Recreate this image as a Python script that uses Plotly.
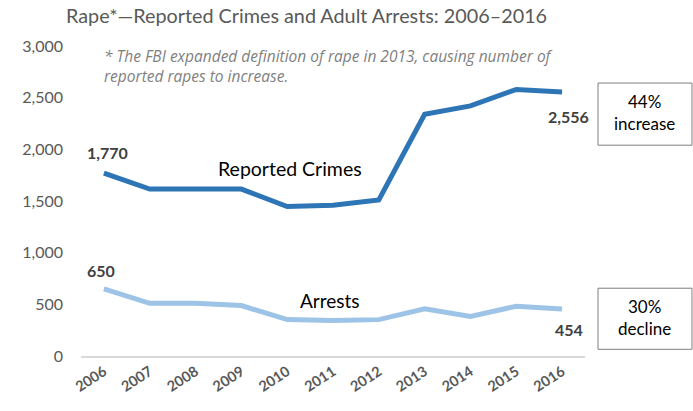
import plotly.graph_objects as go

years = [2006, 2007, 2008, 2009, 2010, 2011, 2012, 2013, 2014, 2015, 2016]
reported_crimes = [1770, 1615, 1615, 1615, 1447, 1460, 1510, 2340, 2420, 2580, 2556]
arrests = [650, 510, 510, 488, 353, 344, 352, 456, 383, 482, 454]
y_ticks = [0, 500, 1000, 1500, 2000, 2500, 3000]

FONT = "Lato"
GRAY = "#595959"

fig = go.Figure()
fig.add_trace(go.Scatter(x=years, y=reported_crimes, mode="lines",
                         line=dict(color="#2E75B6", width=5), name="Reported Crimes"))
fig.add_trace(go.Scatter(x=years, y=arrests, mode="lines",
                         line=dict(color="#9DC3E6", width=5), name="Arrests"))

# value labels at the first and last point of each series
def value_label(x, y, xs, ys):
    fig.add_annotation(x=x, y=y, xref="x", yref="y", text=f"<b>{y:,}</b>",
                       showarrow=False, xshift=xs, yshift=ys,
                       xanchor="center", yanchor="middle",
                       font=dict(family=FONT, size=16, color="#404040"))

value_label(years[0], reported_crimes[0], 4, 21)
value_label(years[-1], reported_crimes[-1], 6, -25)
value_label(years[0], arrests[0], -3, 18)
value_label(years[-1], arrests[-1], 7, -20)

# series names
fig.add_annotation(x=0.415, y=0.606, xref="paper", yref="paper", text="Reported Crimes",
                   showarrow=False, xanchor="center", yanchor="middle",
                   font=dict(family=FONT, size=19.5, color="#000000"))
fig.add_annotation(x=0.494, y=0.178, xref="paper", yref="paper", text="Arrests",
                   showarrow=False, xanchor="center", yanchor="middle",
                   font=dict(family=FONT, size=19, color="#000000"))

# change boxes
for y0, y1, txt in [(0.680, 0.8805, "44%<br>increase"), (0.0216, 0.2186, "30%<br>decline")]:
    fig.add_shape(type="rect", xref="paper", yref="paper", x0=1.0258, x1=1.2123,
                  y0=y0, y1=y1, line=dict(color="#7F7F7F", width=1), fillcolor="white",
                  layer="below")
    fig.add_annotation(x=1.119, y=(y0 + y1) / 2 + 0.004, xref="paper", yref="paper", text=txt,
                       showarrow=False, align="center", xanchor="center", yanchor="middle",
                       font=dict(family=FONT, size=17, color="#000000"))

# footnote
fig.add_annotation(x=0.0417, y=1.01, xref="paper", yref="paper", xanchor="left", yanchor="top",
                   text="* The FBI expanded definition of rape in 2013, causing number of<br>"
                        "reported rapes to increase.",
                   showarrow=False, align="left",
                   font=dict(family="Open Sans", size=15.5, color="#7F7F7F", style="italic"))

fig.update_layout(
    width=693, height=411,
    margin=dict(l=81, r=108, t=46, b=55),
    paper_bgcolor="white", plot_bgcolor="white",
    showlegend=False,
    title=dict(text="Rape*\u2014Reported Crimes and Adult Arrests: 2006\u20132016",
               xref="container", x=66 / 693, xanchor="left",
               yref="container", y=1 - 16 / 411, yanchor="middle",
               font=dict(family=FONT, size=19.8, color=GRAY)),
    xaxis=dict(range=[2005.5, 2016.5], tickvals=years, ticktext=[str(y) for y in years],
               showgrid=False, zeroline=False, showline=True, linecolor="#D9D9D9",
               linewidth=1.5, ticks="", tickangle=-33,
               tickfont=dict(family=FONT, size=14.5, color=GRAY, weight="bold")),
    yaxis=dict(range=[0, 3000], tickvals=y_ticks, ticktext=[f"{v:,}" for v in y_ticks],
               showgrid=False, zeroline=False, showline=False, ticks="",
               ticklabelstandoff=17,
               tickfont=dict(family=FONT, size=16, color=GRAY)),
)

fig.write_html("out.html")
